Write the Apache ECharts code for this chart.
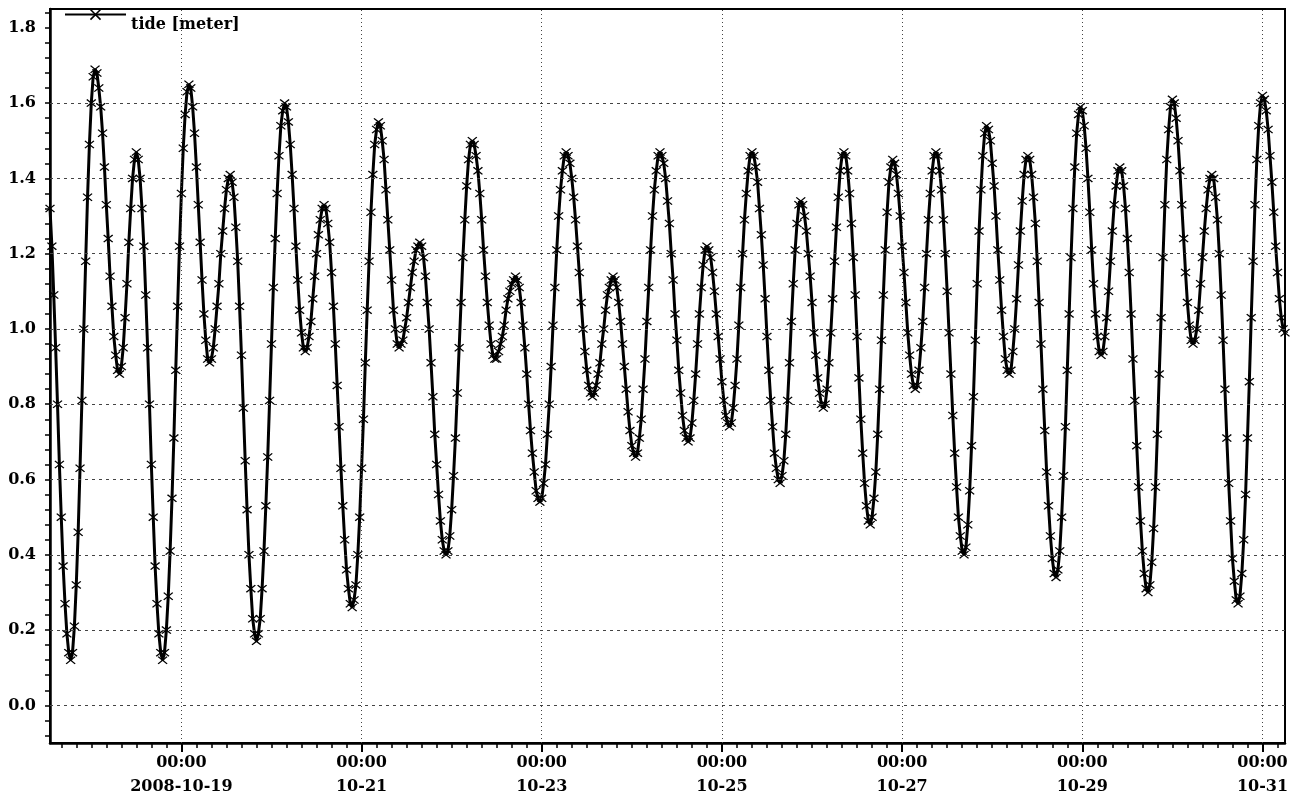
<!DOCTYPE html>
<html><head><meta charset="utf-8">
<script src="https://cdn.jsdelivr.net/npm/echarts@6/dist/echarts.min.js"></script>
<style>html,body{margin:0;padding:0;background:#fff}#c{width:1300px;height:804px}</style>
</head><body><div id="c"></div>
<script>
const seriesName = 'tide [meter]';
const startTime = '2008-10-17T13:00:00Z';
const endTime = '2008-10-31T06:00:00Z';
const stepMinutes = 30;
// half-hourly tide values (meter)
const tide = [
1.32,1.22,1.09,0.95,0.80,0.64,0.50,0.37,0.27,0.19,0.14,0.12,
0.14,0.21,0.32,0.46,0.63,0.81,1.00,1.18,1.35,1.49,1.60,1.67,1.69,
1.68,1.64,1.59,1.52,1.43,1.33,1.24,1.14,1.06,0.98,0.93,0.89,0.88,
0.90,0.95,1.03,1.12,1.23,1.32,1.40,1.45,1.47,
1.45,1.40,1.32,1.22,1.09,0.95,0.80,0.64,0.50,0.37,0.27,0.19,0.14,0.12,
0.14,0.20,0.29,0.41,0.55,0.71,0.89,1.06,1.22,1.36,1.48,1.57,1.63,1.65,
1.64,1.59,1.52,1.43,1.33,1.23,1.13,1.04,0.97,0.92,0.91,
0.92,0.95,1.00,1.06,1.12,1.20,1.26,1.32,1.37,1.40,1.41,
1.39,1.35,1.27,1.18,1.06,0.93,0.79,0.65,0.52,0.40,0.31,0.23,0.19,0.17,
0.19,0.23,0.31,0.41,0.53,0.66,0.81,0.96,1.11,1.24,1.36,1.46,1.54,1.58,1.60,
1.59,1.55,1.49,1.41,1.32,1.22,1.13,1.05,0.99,0.95,0.94,
0.95,0.98,1.02,1.08,1.14,1.20,1.25,1.29,1.32,1.33,
1.32,1.28,1.23,1.15,1.06,0.96,0.85,0.74,0.63,0.53,0.44,0.36,0.31,0.27,0.26,
0.28,0.32,0.40,0.50,0.63,0.76,0.91,1.05,1.18,1.31,1.41,1.49,1.53,1.55,
1.54,1.50,1.45,1.37,1.29,1.21,1.13,1.05,1.00,0.96,0.95,
0.96,0.97,1.00,1.03,1.07,1.11,1.15,1.18,1.21,1.22,1.23,
1.22,1.19,1.14,1.07,1.00,0.91,0.82,0.72,0.64,0.56,0.49,0.44,0.41,0.40,
0.41,0.45,0.52,0.61,0.71,0.83,0.95,1.07,1.19,1.29,1.38,1.45,1.49,1.50,
1.49,1.46,1.42,1.36,1.29,1.21,1.14,1.07,1.01,0.96,0.93,0.92,
0.92,0.94,0.96,0.98,1.01,1.05,1.08,1.10,1.12,1.13,1.14,
1.13,1.11,1.07,1.01,0.95,0.88,0.80,0.73,0.67,0.62,0.57,0.55,0.54,
0.55,0.59,0.64,0.72,0.80,0.90,1.01,1.11,1.21,1.30,1.37,1.42,1.46,1.47,
1.46,1.44,1.40,1.35,1.29,1.22,1.15,1.07,1.00,0.94,0.89,0.85,0.83,0.82,
0.83,0.85,0.88,0.91,0.96,1.00,1.05,1.09,1.11,1.13,1.14,
1.13,1.11,1.07,1.02,0.96,0.90,0.84,0.78,0.73,0.69,0.67,0.66,
0.67,0.71,0.76,0.84,0.92,1.02,1.11,1.21,1.30,1.37,1.42,1.46,1.47,
1.46,1.44,1.40,1.34,1.28,1.20,1.13,1.04,0.97,0.89,0.83,0.77,0.73,0.71,0.70,
0.71,0.75,0.81,0.88,0.96,1.04,1.11,1.17,1.21,1.22,
1.21,1.19,1.15,1.10,1.04,0.98,0.92,0.86,0.81,0.77,0.75,0.74,
0.75,0.79,0.85,0.92,1.01,1.11,1.20,1.29,1.36,1.42,1.46,1.47,
1.46,1.43,1.39,1.32,1.25,1.17,1.08,0.98,0.89,0.81,0.74,0.67,0.63,0.60,0.59,
0.61,0.65,0.72,0.81,0.91,1.02,1.12,1.21,1.28,1.33,1.34,
1.33,1.30,1.26,1.20,1.14,1.07,0.99,0.93,0.87,0.83,0.80,0.79,
0.80,0.84,0.91,0.99,1.08,1.18,1.27,1.35,1.42,1.46,1.47,
1.46,1.42,1.36,1.28,1.19,1.09,0.98,0.87,0.76,0.67,0.59,0.53,0.49,0.48,
0.50,0.55,0.62,0.72,0.84,0.97,1.09,1.21,1.31,1.39,1.43,1.45,
1.44,1.41,1.36,1.30,1.22,1.15,1.07,0.99,0.93,0.88,0.85,0.84,
0.85,0.89,0.95,1.02,1.11,1.20,1.29,1.36,1.42,1.46,1.47,
1.46,1.42,1.37,1.29,1.20,1.10,0.99,0.88,0.77,0.67,0.58,0.50,0.45,0.41,0.40,
0.42,0.48,0.57,0.69,0.82,0.97,1.12,1.26,1.37,1.46,1.52,1.54,
1.53,1.50,1.44,1.38,1.30,1.21,1.13,1.05,0.98,0.92,0.89,0.88,
0.89,0.94,1.00,1.08,1.17,1.26,1.34,1.41,1.45,1.46,
1.45,1.41,1.35,1.28,1.18,1.07,0.96,0.84,0.73,0.62,0.53,0.45,0.39,0.35,0.34,
0.36,0.41,0.50,0.61,0.74,0.89,1.04,1.19,1.32,1.43,1.52,1.57,1.59,
1.58,1.54,1.48,1.40,1.31,1.21,1.12,1.04,0.98,0.94,0.93,
0.94,0.98,1.03,1.10,1.18,1.26,1.33,1.38,1.42,1.43,
1.42,1.38,1.32,1.24,1.15,1.04,0.92,0.81,0.69,0.58,0.49,0.41,0.35,0.31,0.30,
0.32,0.38,0.47,0.58,0.72,0.88,1.03,1.19,1.33,1.45,1.53,1.59,1.61,
1.60,1.56,1.50,1.42,1.33,1.24,1.15,1.07,1.01,0.97,0.96,
0.97,1.00,1.05,1.12,1.19,1.26,1.32,1.37,1.40,1.41,
1.40,1.35,1.29,1.20,1.09,0.97,0.84,0.71,0.59,0.49,0.39,0.33,0.28,0.27,
0.29,0.35,0.44,0.56,0.71,0.86,1.03,1.18,1.33,1.45,1.54,1.60,1.62,
1.61,1.58,1.53,1.46,1.39,1.31,1.22,1.15,1.08,1.03,1.00,0.99
];
const xLabelDates = ['2008-10-19','2008-10-21','2008-10-23','2008-10-25','2008-10-27','2008-10-29','2008-10-31'];
const xFirstMinorTick = '2008-10-17T16:00:00Z';
const xMinorTickHours = 4;
const yLabelValues = [0.0,0.2,0.4,0.6,0.8,1.0,1.2,1.4,1.6,1.8];
const yGridValues = [0.0,0.2,0.4,0.6,0.8,1.0,1.2,1.4,1.6];
const yMin = -0.1, yMax = 1.85;
const yMinorStep = 0.04;

const HOUR = 3600000;
const t0 = Date.parse(startTime), t1 = Date.parse(endTime);
const data = tide.map((v, i) => [t0 + i * stepMinutes * 60000, v]);
const labelTimes = xLabelDates.map(d => Date.parse(d + 'T00:00:00Z'));
const minorTicks = [];
for (let t = Date.parse(xFirstMinorTick); t <= t1; t += xMinorTickHours * HOUR) minorTicks.push(t);
const yMinorTicks = [];
for (let k = Math.ceil(yMin / yMinorStep); k * yMinorStep <= yMax; k++) yMinorTicks.push(+(k * yMinorStep).toFixed(2));

const font = {fontFamily: 'DejaVu Serif', fontWeight: 'bold', fontSize: 16, color: '#000'};
const pad = n => String(n).padStart(2, '0');
function xFormatter(v) {
  const d = new Date(v);
  const time = pad(d.getUTCHours()) + ':' + pad(d.getUTCMinutes());
  const md = pad(d.getUTCMonth() + 1) + '-' + pad(d.getUTCDate());
  const date = Math.abs(v - labelTimes[0]) < 1000 ? d.getUTCFullYear() + '-' + md : md;
  return time + '\n' + date;
}
const xSymbol = 'path://M0,1L1,0L5,4L9,0L10,1L6,5L10,9L9,10L5,6L1,10L0,9L4,5Z';

const chart = echarts.init(document.getElementById('c'), null, {renderer: 'canvas'});
chart.setOption({
  animation: false,
  backgroundColor: '#fff',
  grid: {left: 50, right: 15, top: 9, bottom: 61, show: true, borderColor: '#000', borderWidth: 2, backgroundColor: 'transparent'},
  legend: {
    show: true, left: 64, top: 9, padding: 0, itemWidth: 61, itemHeight: 14, itemGap: 0,
    formatter: '{t|{name}}',
    textStyle: Object.assign({}, font, {rich: {t: Object.assign({}, font, {padding: [20, 0, 0, 0]})}}),
    data: [seriesName]
  },
  xAxis: [
    {type: 'value', min: t0, max: t1,
     axisLine: {show: true, onZero: false, lineStyle: {color: '#000', width: 2.5}},
     axisTick: {show: true, customValues: minorTicks, length: 5, lineStyle: {color: '#000', width: 1.5}},
     axisLabel: {show: false}, splitLine: {show: false}},
    {type: 'value', min: t0, max: t1, position: 'bottom',
     axisLine: {show: false, onZero: false},
     axisTick: {show: true, customValues: labelTimes, length: 9, lineStyle: {color: '#000', width: 2}},
     axisLabel: Object.assign({show: true, customValues: labelTimes, formatter: xFormatter, margin: 8, lineHeight: 24}, font),
     splitLine: {show: false}}
  ],
  yAxis: [{
    type: 'value', min: yMin, max: yMax,
    axisLine: {show: true, onZero: false, lineStyle: {color: '#000', width: 2.5}},
    axisTick: {show: true, customValues: yMinorTicks, length: 5, lineStyle: {color: '#000', width: 1.5}},
    axisLabel: Object.assign({show: true, customValues: yLabelValues, formatter: v => Number(v).toFixed(1), margin: 14}, font),
    splitLine: {show: false}
  }],
  series: [{
    name: seriesName, type: 'line', xAxisIndex: 0, yAxisIndex: 0, data: data,
    symbol: xSymbol, symbolSize: [10, 8], showSymbol: true,
    itemStyle: {color: '#000'},
    lineStyle: {color: '#000', width: 3},
    emphasis: {disabled: true},
    markLine: {
      silent: true, symbol: ['none', 'none'], label: {show: false}, animation: false,
      data: yGridValues.map(v => ({yAxis: v, lineStyle: {type: [3, 4], color: '#444', width: 1}}))
        .concat(labelTimes.map(t => ({xAxis: t, lineStyle: {type: [1, 3], color: '#444', width: 1}})))
    }
  }]
});
</script>
</body></html>
